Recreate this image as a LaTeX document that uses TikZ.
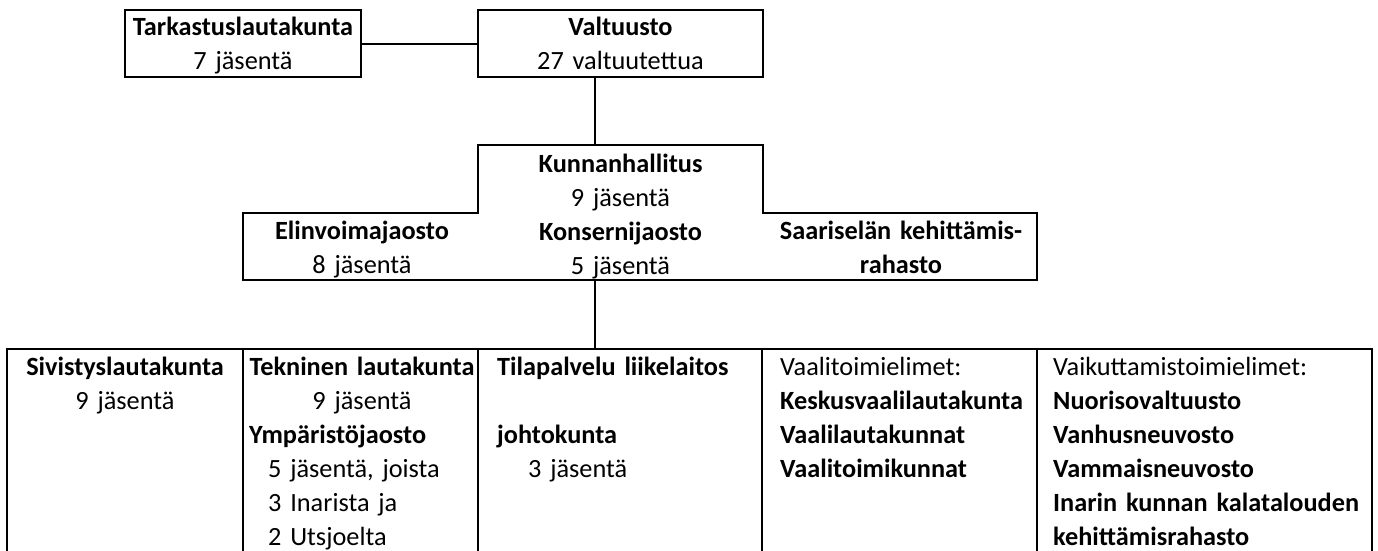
\documentclass[tikz,border=0pt]{standalone}
\usepackage{fontspec}
\setmainfont{Carlito}
\usetikzlibrary{calc}
\tikzset{
  orgbox/.style={draw=black,line width=2pt,outer sep=0pt,inner sep=0pt,anchor=north west},
  orgtext/.style={inner sep=0pt,align=center,anchor=base},
  celltext/.style={inner sep=0pt,align=left,anchor=base west},
}

\begin{document}
\begin{tikzpicture}[x=1pt,y=-1pt,font=\fontsize{26.3}{34}\selectfont]
\useasboundingbox (0,0) rectangle (1378,550);

% top boxes
\node[orgbox,minimum width=236,minimum height=67] (tarkastus) at (125,10) {};
\node[orgbox,minimum width=285,minimum height=67] (valtuusto) at (478,10) {};
% kunnanhallitus, drawn as one outline below
\node[orgbox,draw=none,minimum width=285,minimum height=68] (kh) at (478,145) {};
\node[orgbox,draw=none,minimum width=794,minimum height=67] (jaostot) at (243,213) {};
\draw[line width=2pt] (kh.north west)--(kh.north east)--(kh.south east)--(jaostot.north east)
--(jaostot.south east)--(jaostot.south west)--(jaostot.north west)--(kh.south west)--cycle;

% bottom row, runs off the page
\node[orgbox,minimum width=236,minimum height=240] (sivistys) at (7,349) {};
\node[orgbox,minimum width=235,minimum height=240] (tekninen) at (sivistys.north east) {};
\node[orgbox,minimum width=284,minimum height=240] (tilapalvelu) at (tekninen.north east) {};
\node[orgbox,minimum width=275,minimum height=240] (vaali) at (tilapalvelu.north east) {};
\node[orgbox,minimum width=335,minimum height=240] (vaikutus) at (vaali.north east) {};

% connectors
\coordinate (spine) at (595,0);
\draw[line width=2pt] (tarkastus) -- (valtuusto);
\draw[line width=2pt] (valtuusto.south -| spine) -- (kh.north -| spine);
\draw[line width=2pt] (jaostot.south -| spine) -- (tilapalvelu.north -| spine);

%labels
\node[orgtext,text width=236] (tarkastusteksti) at (243,35) {\textbf{Tarkastuslautakunta}\\7 jäsentä};
\node[orgtext,text width=285] (valtuustoteksti) at (620.5,35) {\textbf{Valtuusto}\\27 valtuutettua};
\node[orgtext,text width=285] (khteksti) at (620.5,172) {\textbf{Kunnanhallitus}\\9 jäsentä\\\textbf{Konsernijaosto}\\5 jäsentä};
\node[orgtext,text width=220] (elinvoima) at (362,239) {\textbf{Elinvoimajaosto}\\8 jäsentä};
\node[orgtext,text width=260] (saariselka) at (901,239) {\textbf{Saariselän kehittämis-}\\\textbf{rahasto}};
\node[orgtext,text width=236] (sivistysteksti) at (125,375) {\textbf{Sivistyslautakunta}\\9 jäsentä};
\node[orgtext,text width=235] (teknineteksti) at (362,375) {\textbf{Tekninen lautakunta}\\9 jäsentä};
\node[celltext,text width=225] (ymparisto) at (249,443) {\textbf{Ympäristöjaosto}\\
\hspace*{19pt}5 jäsentä, joista\\\hspace*{19pt}3 Inarista ja\\\hspace*{19pt}2 Utsjoelta};
\node[celltext,text width=270] (tilateksti) at (497,375) {\textbf{Tilapalvelu liikelaitos}\\[34pt]
\textbf{johtokunta}\\\hspace*{31pt}3 jäsentä};
\node[celltext,text width=265] (vaaliteksti) at (780,375) {Vaalitoimielimet:\\\textbf{Keskusvaalilautakunta}\\
\textbf{Vaalilautakunnat}\\\textbf{Vaalitoimikunnat}};
\node[celltext,text width=315] (vaikutusteksti) at (1053,375) {Vaikuttamistoimielimet:\\\textbf{Nuorisovaltuusto}\\
\textbf{Vanhusneuvosto}\\\textbf{Vammaisneuvosto}\\\textbf{Inarin kunnan kalatalouden}\\\textbf{kehittämisrahasto}};

\end{tikzpicture}
\end{document}
